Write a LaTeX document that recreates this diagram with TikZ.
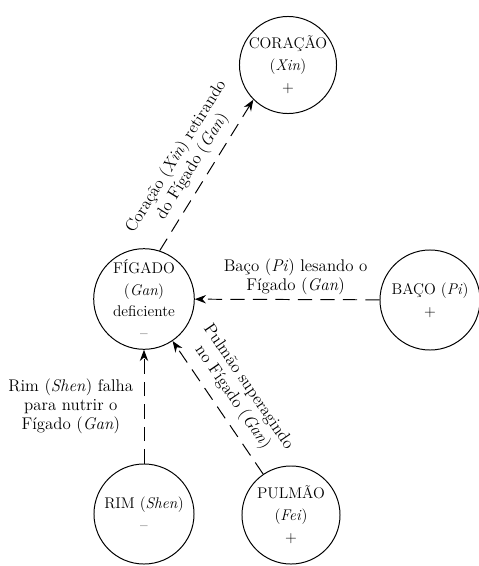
\documentclass[tikz,border=0pt]{standalone}
\usetikzlibrary{arrows.meta}
\begin{document}
\begin{tikzpicture}[x=0.025cm,y=-0.025cm,
    organ/.style={draw,circle,line width=0.7pt,minimum size=2.45cm,inner sep=0pt,
      align=center,font=\fontsize{11}{15.5}\selectfont},
    ciclo/.style={line width=0.7pt,dash pattern=on 10pt off 6pt,
      -{Stealth[length=8pt,width=6pt]}},
    rotulo/.style={align=center,font=\fontsize{12}{13.5}\selectfont}]
  \useasboundingbox (0,0) rectangle (479,566);
  % os cinco orgaos
  \node[organ,minimum size=2.3cm] (coracao) at (288,65) {CORAÇÃO\\(\textit{Xin})\\+};
  \node[organ] (figado) at (144,299) {FÍGADO\\(\textit{Gan})\\deficiente\\--};
  \node[organ,minimum size=2.5cm] (baco) at (430,300) {BAÇO (\textit{Pi})\\+};
  \node[organ,minimum size=2.5cm] (rim) at (144,514) {RIM (\textit{Shen})\\--};
  \node[organ] (pulmao) at (291,515) {PULMÃO\\(\textit{Fei})\\+};
  % setas tracejadas
  \draw[ciclo] (figado.72) -- (coracao.225)
    node[midway,above=2pt,sloped,rotulo] {Coração (\textit{Xin}) retirando\\do Fígado (\textit{Gan})};
  \draw[ciclo] (baco) -- (figado)
    node[midway,above,rotulo,xshift=6pt] {Baço (\textit{Pi}) lesando o\\Fígado (\textit{Gan})};
  \draw[ciclo] (rim) -- (figado)
    node[midway,left,rotulo,xshift=-4pt] {Rim (\textit{Shen}) falha\\para nutrir o\\Fígado (\textit{Gan})};
  \draw[ciclo] (pulmao) -- (figado)
    node[midway,above=3pt,sloped,rotulo] {Pulmão superagindo\\no Fígado (\textit{Gan})};
\end{tikzpicture}
\end{document}
